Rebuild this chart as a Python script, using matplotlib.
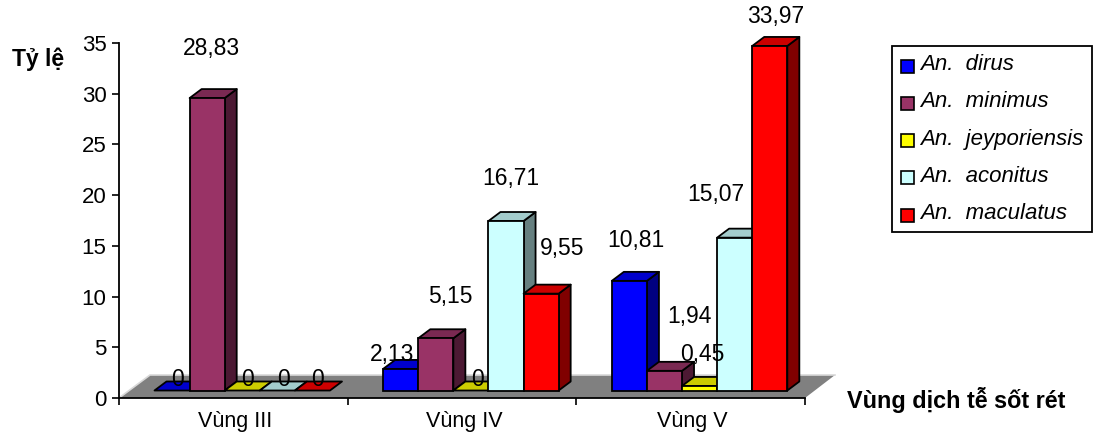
#!/usr/bin/env python3
"""Ty le loai Anopheles theo vung dich te sot ret (pseudo-3D bars)."""

import matplotlib
matplotlib.use('Agg')
import matplotlib.pyplot as plt
from matplotlib.patches import Polygon, Rectangle

plt.rcParams['font.family'] = ['Liberation Sans', 'DejaVu Sans']

W, H = 1095, 432

regions = ['Vùng III', 'Vùng IV', 'Vùng V']
species = ['An.  dirus', 'An.  minimus', 'An.  jeyporiensis', 'An.  aconitus', 'An.  maculatus']

dirus = [0, 2.13, 10.81]
minimus = [28.83, 5.15, 1.94]
jeyporiensis = [0, 0, 0.45]
aconitus = [0, 16.71, 15.07]
maculatus = [0, 9.55, 33.97]
series = [dirus, minimus, jeyporiensis, aconitus, maculatus]

# front, top, side colours per series
colors = [
    ('#0000ff', '#0000cc', '#000080'),
    ('#993366', '#7a2952', '#4c1933'),
    ('#ffff00', '#cccc00', '#808000'),
    ('#ccffff', '#a3cccc', '#668080'),
    ('#ff0000', '#cc0000', '#800000'),
]

# where the value labels sit in the picture (pixels, centre), series by series
label_pos = [
    [(178, 380), (392, 355), (636, 241)],
    [(211, 48), (450, 297), (689, 316)],
    [(248, 380), (478, 380), (702, 355)],
    [(283, 380), (511, 179), (716, 195)],
    [(318, 380), (562, 249), (776, 16)],
]

fig = plt.figure(figsize=(W / 100, H / 100), dpi=100)
ax = fig.add_axes([119 / W, (H - 398) / H, 686 / W, 355 / H])
ax.set_xlim(0, 3)
ax.set_ylim(0, 35)
ax.patch.set_visible(False)

# pixel sizes in data units
px = 3 / 686
py = 35 / 355
bar_w = 35.1 * px
depth_x, depth_y = 12 * px, 9 * py
base_x, base_y = 35.5 * px, 7.5 * py  # front left corner of the first bar, from the axis origin
group_step = 1.0

# floor
floor = Polygon([(0, 0), (31 * px, 23 * py), (3 + 30 * px, 23 * py), (3, 0)],
                closed=True, facecolor='#808080', edgecolor='none', clip_on=False, zorder=1)
ax.add_patch(floor)
ax.plot([0, 31 * px, 3 + 30 * px], [0, 23 * py, 23 * py], color='#d9d9d9', lw=1.2,
        clip_on=False, zorder=1.5)

z = 2
for g in range(len(regions)):
    for s, vals in enumerate(series):
        v = vals[g]
        front, top, side = colors[s]
        x0 = base_x + g * group_step + s * bar_w
        y0 = base_y
        y1 = y0 + v
        x1 = x0 + bar_w
        common = dict(edgecolor='black', linewidth=1.3, clip_on=False, zorder=z, joinstyle='round')
        if v > 0:
            ax.add_patch(Polygon([(x1, y0), (x1 + depth_x, y0 + depth_y),
                                  (x1 + depth_x, y1 + depth_y), (x1, y1)],
                                 facecolor=side, **common))
        ax.add_patch(Polygon([(x0, y1), (x0 + depth_x, y1 + depth_y),
                              (x1 + depth_x, y1 + depth_y), (x1, y1)],
                             facecolor=top, **common))
        if v > 0:
            ax.bar(x0, v, width=bar_w, bottom=y0, align='edge', color=front,
                   edgecolor='black', linewidth=1.3, clip_on=False, zorder=z)
        z += 1

# axes
for name in ['top', 'right']:
    ax.spines[name].set_visible(False)
for name in ['left', 'bottom']:
    ax.spines[name].set_linewidth(1.3)
    ax.spines[name].set_zorder(z)
ax.set_yticks(range(0, 36, 5))
ax.tick_params(axis='y', direction='out', length=5, width=1.2, pad=4, labelsize=16)
ax.set_xticks([0, 1, 2, 3])
ax.set_xticklabels([])
ax.tick_params(axis='x', which='major', direction='out', length=5, width=1.2)
ax.set_xticks([0.508, 1.508, 2.508], minor=True)
ax.set_xticklabels(regions, minor=True)
ax.tick_params(axis='x', which='minor', length=0, pad=9, labelsize=15.5)


def fig_text(x, y, s, **kw):
    fig.text(x / W, 1 - y / H, s, zorder=50, **kw)


# value labels
for s, vals in enumerate(series):
    for g, v in enumerate(vals):
        txt = '0' if v == 0 else f'{v:.2f}'.replace('.', ',')
        x, y = label_pos[s][g]
        fig_text(x, y, txt, fontsize=16.5, ha='center', va='center', color='black')

fig_text(38, 59, 'Tỷ lệ', fontsize=16.5, fontweight='bold', ha='center', va='center')
fig_text(847, 400, 'Vùng dịch tễ sốt rét', fontsize=16.8, fontweight='bold', ha='left', va='center')

# legend
fig.add_artist(Rectangle((892 / W, 1 - 232 / H), 200 / W, 186 / H, transform=fig.transFigure,
                         facecolor='white', edgecolor='black', linewidth=1.3))
for i, name in enumerate(species):
    y = 66 + i * 37.3
    fig.add_artist(Rectangle((900.5 / W, 1 - (y + 6.5) / H), 13 / W, 13 / H, transform=fig.transFigure,
                             facecolor=colors[i][0], edgecolor='black', linewidth=1.2))
    fig_text(920, y + 4, name, fontsize=16, style='italic', ha='left', va='baseline')

fig.savefig('out.png', dpi=100)
